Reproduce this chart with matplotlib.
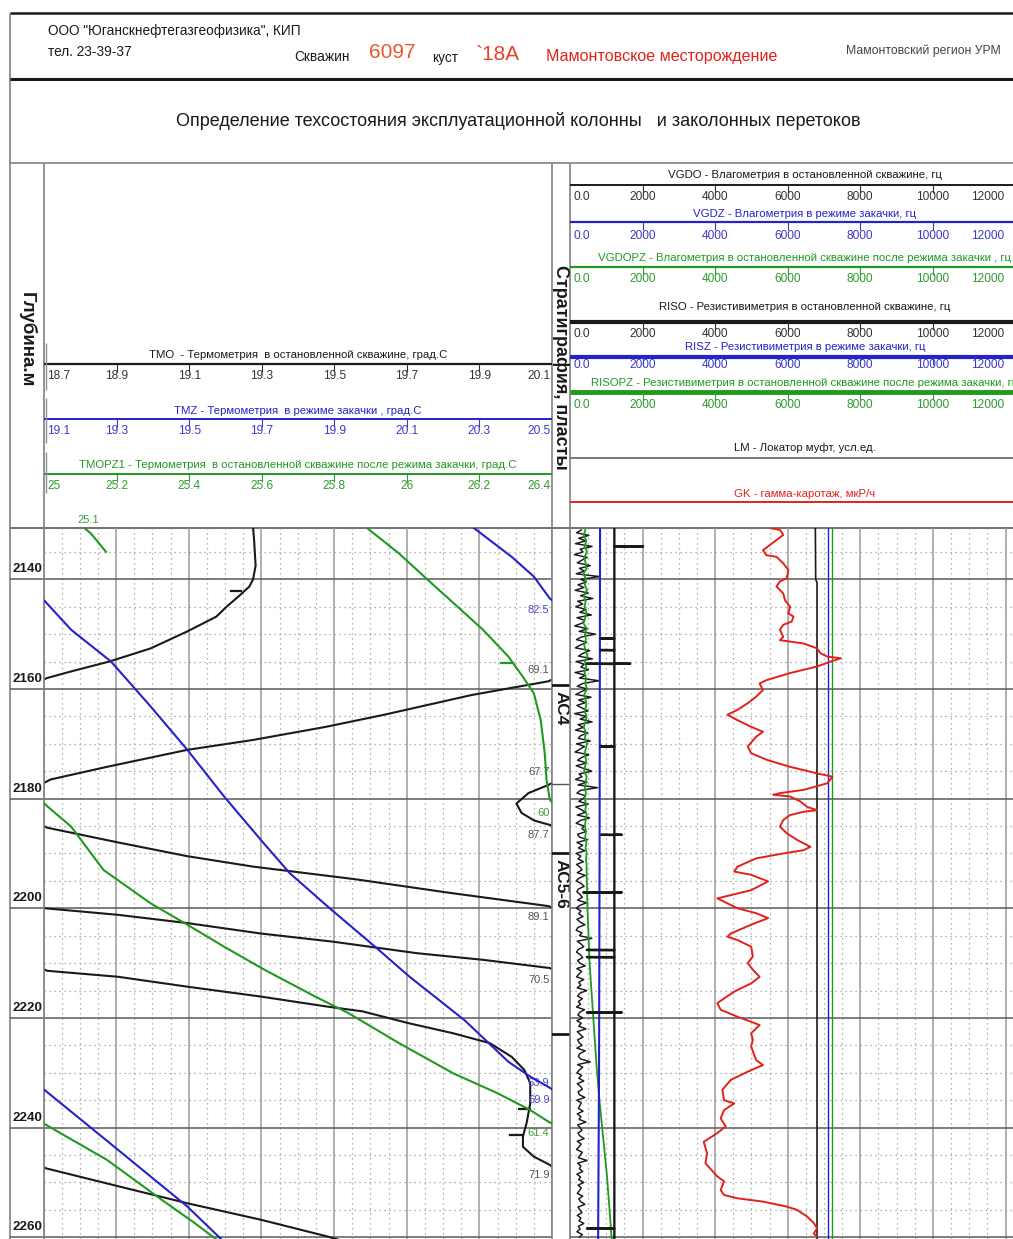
import numpy as np
import matplotlib
matplotlib.use("Agg")
import matplotlib.pyplot as plt

W, H = 1013, 1239
ARIAL = ['Liberation Sans', 'DejaVu Sans']
plt.rcParams['font.family'] = ARIAL

BLACK = '#1a1a1a'
BLUE = '#2323c8'
GREEN = '#1f9a1f'
RED = '#e3211c'

# ---------------- data ----------------
DEPTH_TOP, DEPTH_BOT = 2130.55, 2260.32
depth_major = [2140, 2160, 2180, 2200, 2220, 2240, 2260]

# temperature scales (window 1.4 C, curves wrap around)
TEMP_WINDOW = 1.4
tmo_scale = [18.7, 18.9, 19.1, 19.3, 19.5, 19.7, 19.9, 20.1]
tmz_scale = [19.1, 19.3, 19.5, 19.7, 19.9, 20.1, 20.3, 20.5]
tmopz1_scale = [25, 25.2, 25.4, 25.6, 25.8, 26, 26.2, 26.4]

tmo_depth = [2130.6, 2133.0, 2135.3, 2137.5, 2140.0, 2141.3, 2143.0, 2145.0, 2146.8, 2149.5,
             2152.6, 2155.0, 2156.8, 2158.0, 2158.6, 2161.1, 2164.7, 2166.9, 2169.3, 2171.1,
             2174.2, 2176.5, 2177.5, 2179.0, 2180.9, 2182.6, 2184.0, 2184.8, 2185.3, 2188.0,
             2190.5, 2192.4, 2194.7, 2197.2, 2199.6, 2200.0, 2201.2, 2202.7, 2204.6, 2206.1,
             2208.2, 2209.4, 2210.9, 2211.4, 2212.5, 2214.3, 2216.1, 2217.9, 2218.8, 2221.0,
             2222.8, 2224.6, 2227.1, 2229.5, 2231.9, 2235.6, 2239.2, 2241.6, 2243.5, 2245.3,
             2246.8, 2247.4, 2250.7, 2253.8, 2256.8, 2259.8, 2260.4]
tmo_temp = [69.677, 69.680, 69.682, 69.684, 69.677, 69.667, 69.639, 69.604, 69.576, 69.496,
            69.395, 69.281, 69.176, 69.110, 69.090, 68.879, 68.638, 68.478, 68.277, 68.096,
            67.875, 67.720, 67.690, 67.635, 67.602, 67.616, 67.651, 67.694, 67.710, 67.906,
            68.096, 68.277, 68.558, 68.820, 69.090, 69.105, 69.306, 69.496, 69.698, 69.898,
            70.129, 70.310, 70.494, 70.510, 70.706, 70.896, 71.098, 71.278, 71.378, 71.508,
            71.628, 71.729, 71.789, 71.824, 71.840, 71.840, 71.830, 71.820, 71.820, 71.850,
            71.894, 71.905, 72.106, 72.296, 72.498, 72.678, 72.710]

tmz_depth = [2130.6, 2135.9, 2139.5, 2143.5, 2144.0, 2149.2, 2155.0, 2163.2, 2171.1, 2179.6,
             2187.5, 2193.6, 2200.0, 2207.3, 2212.5, 2220.4, 2228.0, 2230.7, 2232.7, 2233.2,
             2244.1, 2254.4, 2260.4]
tmz_temp = [62.284, 62.389, 62.450, 62.494, 62.504, 62.576, 62.686, 62.795, 62.896, 62.997,
            63.098, 63.178, 63.288, 63.418, 63.508, 63.659, 63.780, 63.840, 63.893, 63.904,
            64.106, 64.296, 64.390]

tmopz1_depth = [2130.6, 2135.3, 2140.1, 2145.0, 2149.2, 2154.1, 2157.8, 2160.8, 2165.7, 2171.7,
                2176.6, 2180.2, 2181.2, 2185.1, 2193.0, 2199.1, 2203.0, 2207.0, 2211.2, 2216.1,
                2219.1, 2224.6, 2230.1, 2233.7, 2236.8, 2239.0, 2239.5, 2245.9, 2253.2, 2257.4,
                2260.4]
tmopz1_temp = [59.490, 59.579, 59.658, 59.740, 59.810, 59.880, 59.920, 59.950, 59.969, 59.980,
               59.985, 59.994, 60.007, 60.076, 60.165, 60.295, 60.396, 60.497, 60.608, 60.748,
               60.839, 60.979, 61.128, 61.249, 61.340, 61.392, 61.407, 61.575, 61.726, 61.816,
               61.876]
# first readings of TMOPZ1 before the probe settled
tmopz1_head_depth = [2130.8, 2131.6, 2133.2, 2135.0]
tmopz1_head_temp = [25.115, 25.130, 25.150, 25.172]

# wrap-point captions as printed on the log
wrap_labels = [('82.5', 2145.6, 'tmz'), ('69.1', 2156.5, 'tmo'), ('67.7', 2175.1, 'tmo'),
               ('60', 2182.6, 'tmopz1'), ('87.7', 2186.6, 'tmo'), ('89.1', 2201.6, 'tmo'),
               ('70.5', 2213.1, 'tmo'), ('63.9', 2231.9, 'tmz'), ('69.9', 2234.9, 'tmz'),
               ('61.4', 2241.0, 'tmopz1'), ('71.9', 2248.7, 'tmo')]
# small depth marks drawn on the curves: (depth, from, to)
tmo_marks = [(2142.2, 19.215, 19.245), (2236.7, 20.01, 20.04), (2241.4, 19.985, 20.02)]
tmopz1_marks = [(2155.2, 26.26, 26.29)]

# right track, frequency scale 0..12000 Hz
freq_scale = [0, 2000, 4000, 6000, 8000, 10000, 12000]
freq_labels = ['0.0', '2000', '4000', '6000', '8000', '10000', '12000']

vgdo = [310, 180, 520, 240, 430, 150, 610, 280, 360, 120, 470, 330, 200, 560, 260, 400, 170, 820, 300, 450,
        220, 380, 140, 500, 290, 630, 210, 350, 160, 440, 270, 590, 190, 410, 330, 130, 480, 250, 700, 320,
        180, 460, 280, 150, 540, 360, 230, 620, 170, 390, 300, 510, 140, 430, 260, 800, 350, 200, 470, 310,
        160, 580, 240, 420, 190, 340, 500, 130, 450, 280, 610, 220, 370, 150, 490, 300, 230, 560, 180, 400,
        270, 140, 520, 320, 210, 460, 170, 380, 600, 250, 330, 150, 470, 220, 760, 290, 190, 430, 360, 240,
        500, 160, 310, 420, 200, 540, 280, 170, 390, 330, 450, 210, 260, 480, 190, 350, 230, 410, 170, 300,
        220, 370, 180, 280, 330, 200, 420, 250, 170, 310, 390, 230, 190, 280, 340, 210, 450, 260, 180, 300,
        240, 360, 190, 280, 410, 220, 170, 330, 260, 600, 200, 300, 380, 230, 180, 290, 350, 210, 270, 420,
        190, 320, 250, 180, 380, 240, 300, 200, 460, 270, 210, 340, 230, 290, 180, 400, 260, 220, 350, 190,
        310, 240, 440, 200, 280, 360, 210, 250, 330, 190, 420, 270, 230, 300, 560, 210, 350, 260, 190, 320,
        240, 380, 200, 290, 340, 220, 260, 410, 190, 310, 270, 230, 360, 200, 300, 250, 440, 210, 280, 330,
        220, 270, 390, 200, 310, 250, 180, 340, 280, 230, 470, 210, 300, 260, 350, 190, 290, 240, 380, 220,
        310, 260, 200, 350, 240, 290, 410, 220, 270, 330, 200, 300, 250, 380, 230, 280, 190, 340, 260]
VGDO_START, VGDO_STEP = 2131.0, 0.5

vgdz_depth = [2130.6, 2190.0, 2230.0, 2260.4]
vgdz = [828, 815, 800, 775]

vgdopz_depth = list(range(2131, 2193)) + [2200, 2210, 2219.8, 2229.5, 2235.6, 2241.6, 2248.9, 2260.4]
vgdopz = [420, 380, 450, 400, 470, 390, 430, 460, 370, 440, 410, 470, 380, 430, 400, 450, 420, 370, 460, 410,
          440, 390, 430, 480, 410, 450, 400, 440, 420, 470, 390, 430, 450, 400, 460, 420, 380, 440, 410, 470,
          430, 400, 450, 420, 390, 460, 430, 410, 440, 400, 450, 420, 460, 430, 410, 440, 420, 450, 430, 460,
          440, 455, 480, 540, 640, 740, 820, 910, 1020, 1150]

riso_depth = [2130.6, 2140.0, 2140.6, 2260.4]
riso = [6760, 6770, 6806, 6806]
risz_depth = [2130.6, 2260.4]
risz = [7100, 7100]
risopz_depth = [2130.6, 2260.4]
risopz = [7220, 7220]

# LM: coupling collars (depth, pulse to the right, pulse to the left)
lm_collar = [2134.0, 2150.8, 2152.9, 2155.4, 2170.5, 2186.6, 2197.1, 2207.6, 2208.9, 2219.0, 2258.4]
lm_right = [0.65, 0.0, 0.0, 0.36, 0.0, 0.17, 0.17, 0.0, 0.0, 0.17, 0.0]
lm_left = [0.0, -0.32, -0.32, -0.62, -0.32, -0.30, -0.70, -0.62, -0.62, -0.62, -0.62]

gk_depth = [2130.7, 2131.0, 2131.9, 2134.7, 2135.6, 2135.9, 2137.1, 2138.3, 2139.8, 2140.4,
            2141.3, 2142.6, 2143.8, 2145.0, 2146.2, 2146.8, 2147.7, 2148.3, 2149.2, 2150.5,
            2151.1, 2151.7, 2152.6, 2153.5, 2154.1, 2154.4, 2155.0, 2155.9, 2157.1, 2158.4,
            2159.0, 2160.2, 2161.4, 2162.6, 2163.8, 2164.7, 2165.7, 2166.9, 2167.8, 2168.7,
            2170.5, 2171.7, 2172.9, 2174.2, 2175.4, 2176.0, 2177.2, 2178.4, 2179.0, 2179.3,
            2179.6, 2180.5, 2181.5, 2182.1, 2182.4, 2183.0, 2183.9, 2185.1, 2186.3, 2187.5,
            2188.8, 2189.4, 2190.0, 2190.9, 2192.4, 2193.3, 2193.9, 2195.1, 2196.7, 2198.2,
            2199.1, 2200.0, 2200.9, 2201.8, 2203.0, 2204.6, 2205.2, 2205.8, 2207.0, 2208.8,
            2210.0, 2211.2, 2212.5, 2213.7, 2215.2, 2217.3, 2218.5, 2219.8, 2220.7, 2221.3,
            2222.8, 2224.0, 2225.2, 2227.7, 2228.6, 2229.8, 2231.3, 2233.1, 2235.0, 2235.6,
            2236.8, 2238.3, 2239.8, 2241.0, 2242.6, 2244.7, 2246.5, 2248.9, 2249.8, 2251.4,
            2252.3, 2252.9, 2253.5, 2254.4, 2255.0, 2256.2, 2257.4, 2258.4, 2259.3, 2259.9]
gk = [11.9, 12.4, 12.6, 11.4, 11.6, 12.2, 12.6, 12.9, 12.8, 12.4,
      12.2, 12.6, 12.7, 13.0, 12.9, 13.2, 13.1, 12.6, 12.4, 12.6,
      12.4, 13.8, 14.6, 14.8, 15.2, 16.0, 15.4, 14.6, 13.0, 11.6,
      11.2, 11.4, 11.0, 10.5, 9.9, 9.3, 9.9, 10.7, 11.4, 11.0,
      10.5, 10.7, 11.6, 13.0, 14.6, 15.5, 15.2, 13.8, 12.4, 12.0,
      13.0, 13.6, 14.0, 14.6, 13.8, 13.0, 12.6, 12.4, 12.8, 13.4,
      14.2, 13.8, 12.6, 11.0, 9.9, 9.7, 10.7, 11.7, 10.7, 8.7,
      9.3, 9.9, 11.0, 11.7, 10.7, 9.5, 9.3, 9.9, 10.7, 10.8,
      10.5, 10.8, 11.2, 10.7, 9.7, 8.7, 8.9, 9.9, 10.7, 11.2,
      10.7, 10.8, 10.7, 11.0, 11.4, 10.5, 9.5, 9.0, 9.1, 9.7,
      9.1, 8.9, 9.2, 8.7, 7.9, 8.1, 8.0, 8.7, 9.1, 8.9,
      9.1, 9.9, 11.4, 12.8, 13.4, 14.0, 14.4, 14.6, 14.4, 14.6]
GK_LIM = (0, 26.2)
LM_LIM = (-1, 9)
FREQ_LIM = (0, 12220)

# stratigraphy
strat_bounds = [2159.3, 2177.3, 2190.0, 2223.0]
strat_thick = [True, False, True, True]
strat_names = [('АС4', 2159.3), ('АС5-6', 2190.0)]


# ---------------- helpers ----------------
def wrap_curve(depth, value, lo, width):
    xs, ys = [], []
    for i in range(len(value)):
        if i:
            k0 = int(np.floor((value[i - 1] - lo) / width))
            k1 = int(np.floor((value[i] - lo) / width))
            step = 1 if k1 > k0 else -1
            for k in range(k0, k1, step):
                edge = lo + (k + (1 if step > 0 else 0)) * width
                t = (edge - value[i - 1]) / (value[i] - value[i - 1])
                d = depth[i - 1] + t * (depth[i] - depth[i - 1])
                a, b = (lo + width, lo) if step > 0 else (lo, lo + width)
                xs += [a, np.nan, b]
                ys += [d, np.nan, d]
        xs.append(lo + (value[i] - lo) % width)
        ys.append(depth[i])
    return xs, ys


fig = plt.figure(figsize=(W / 100, H / 100), dpi=100)
bg = fig.add_axes([0, 0, 1, 1])
bg.set_xlim(0, W)
bg.set_ylim(H, 0)
bg.axis('off')


def px_axes(x0, y0, x1, y1):
    return fig.add_axes([x0 / W, 1 - y1 / H, (x1 - x0) / W, (y1 - y0) / H])


def hline(y, x0, x1, **kw):
    bg.plot([x0, x1], [y, y], solid_capstyle='butt', **kw)


def vline(x, y0, y1, **kw):
    bg.plot([x, x], [y0, y1], solid_capstyle='butt', **kw)


def style_track(ax, xlim, xmaj, xmin):
    ax.set_xlim(*xlim)
    ax.set_ylim(DEPTH_BOT, DEPTH_TOP)
    ax.set_xticks(xmaj)
    ax.set_xticks(xmin, minor=True)
    ax.set_yticks(depth_major)
    ax.set_yticks(np.arange(2135, 2260, 5), minor=True)
    ax.xaxis.grid(True, which='major', color='#9a9a9a', lw=1.1)
    ax.yaxis.grid(True, which='major', color='#5a5a5a', lw=1.1)
    ax.grid(True, which='minor', color='#9a9a9a', lw=0.9, linestyle=(0, (1, 3)))
    ax.set_axisbelow(True)
    ax.tick_params(which='both', length=0, labelbottom=False, labelleft=False)
    for s in ['top', 'bottom']:
        ax.spines[s].set_visible(False)
    for s in ['left', 'right']:
        ax.spines[s].set_color('#808080')
        ax.spines[s].set_linewidth(1.2)
    ax.patch.set_alpha(0)


def overlay(ax, xlim):
    o = ax.twiny()
    o.set_xlim(*xlim)
    o.set_ylim(DEPTH_BOT, DEPTH_TOP)
    o.axis('off')
    return o


# ---------------- header ----------------
hline(13, 10, W, color=BLACK, lw=1.8)
vline(10, 13, H, color='#808080', lw=1.2)
hline(79, 10, W, color=BLACK, lw=2.2)
hline(163, 10, W, color='#808080', lw=1.2)
hline(527.5, 10, W, color='#707070', lw=1.4)
for x in [43.5, 552, 570]:
    vline(x, 163, 527.5, color='#808080', lw=1.2)

bg.text(48, 31, 'ООО "Юганскнефтегазгеофизика", КИП', fontsize=9.8, va='center', color=BLACK)
bg.text(48, 52, 'тел. 23-39-37', fontsize=9.8, va='center', color=BLACK)
bg.text(294, 57, 'Скважин', fontsize=9.8, va='center', color=BLACK)
bg.text(369, 52, '6097', fontsize=15, va='center', color='#e8582e')
bg.text(432, 58, 'куст', fontsize=9.8, va='center', color=BLACK)
bg.text(476, 55, '`18А', fontsize=15, va='center', color='#e8412e')
bg.text(546, 56, 'Мамонтовское месторождение', fontsize=11.6, va='center', color='#e3211c')
bg.text(846, 51, 'Мамонтовский регион УРМ', fontsize=8.8, va='center', color='#444444')
bg.text(518, 121, 'Определение техсостояния эксплуатационной колонны   и заколонных перетоков',
        fontsize=13, ha='center', va='center', color=BLACK)

bg.text(27, 340, 'Глубина.м', rotation=270, fontsize=13.5, fontweight='bold', ha='center', va='center',
        color=BLACK)
bg.text(561, 367, 'Стратиграфия, пласты', rotation=270, fontsize=13, fontweight='bold', ha='center',
        va='center', color=BLACK)

HEAD_FS, TICK_FS = 8.2, 8.6


def scale_row(x0, x1, x_end, y_text, y_line, y_lab, title, values, labels, color, lw, lab_color):
    bg.text((x0 + x1) / 2 if x_end == x1 else 805, y_text, title, ha='center', va='center',
            fontsize=HEAD_FS, color=color)
    hline(y_line, x0, x_end, color=color, lw=lw)
    n = len(values)
    for i, (v, s) in enumerate(zip(values, labels)):
        x = x0 + (v - values[0]) / (values[-1] - values[0]) * (x1 - x0)
        if i == 0:
            bg.text(x + 3, y_lab, s, ha='left', va='center', fontsize=TICK_FS, color=lab_color)
        elif i == n - 1:
            bg.text(x - 1, y_lab, s, ha='right', va='center', fontsize=TICK_FS, color=lab_color)
        else:
            bg.text(x, y_lab, s, ha='center', va='center', fontsize=TICK_FS, color=lab_color)
            vline(x, y_line, y_line + 8, color=lab_color, lw=0.8)


LAB_K, LAB_B, LAB_G = '#333333', '#3a3ac8', '#2f9a2f'
fmt = lambda vals: ['%g' % v for v in vals]
scale_row(44, 552, 552, 355, 363.5, 376, 'TMO  - Термометрия  в остановленной скважине, град.С',
          tmo_scale, fmt(tmo_scale), BLACK, 1.6, LAB_K)
scale_row(44, 552, 552, 411, 419, 431, 'TMZ - Термометрия  в режиме закачки , град.С',
          tmz_scale, fmt(tmz_scale), BLUE, 1.4, LAB_B)
scale_row(44, 552, 552, 465, 474, 486,
          'TMOPZ1 - Термометрия  в остановленной скважине после режима закачки, град.С',
          tmopz1_scale, fmt(tmopz1_scale), GREEN, 1.4, LAB_G)
for y0, y1 in [(343, 390), (398, 443), (452, 493)]:
    vline(45.5, y0, y1, color='#909090', lw=1.0)

scale_row(570, 1005, W, 175, 185, 197, 'VGDO - Влагометрия в остановленной скважине, гц',
          freq_scale, freq_labels, BLACK, 1.4, LAB_K)
scale_row(570, 1005, W, 214, 222, 236, 'VGDZ - Влагометрия в режиме закачки, гц',
          freq_scale, freq_labels, BLUE, 1.6, LAB_B)
scale_row(570, 1005, W, 258, 267, 279,
          'VGDOPZ - Влагометрия в остановленной скважине после режима закачки , гц',
          freq_scale, freq_labels, GREEN, 1.6, LAB_G)
scale_row(570, 1005, W, 307, 322, 334, 'RISO - Резистивиметрия в остановленной скважине, гц',
          freq_scale, freq_labels, BLACK, 3.0, LAB_K)
scale_row(570, 1005, W, 347, 357, 365, 'RISZ - Резистивиметрия в режиме закачки, гц',
          freq_scale, freq_labels, BLUE, 3.0, LAB_B)
scale_row(570, 1005, W, 383, 392, 405,
          'RISOPZ - Резистивиметрия в остановленной скважине после режима закачки, гц',
          freq_scale, freq_labels, GREEN, 3.5, LAB_G)
bg.text(805, 448, 'LM - Локатор муфт, усл.ед.', ha='center', va='center', fontsize=HEAD_FS, color=BLACK)
hline(458, 570, W, color='#7a7a7a', lw=1.4)
bg.text(805, 494, 'GK - гамма-каротаж, мкР/ч', ha='center', va='center', fontsize=HEAD_FS, color=RED)
hline(502, 570, W, color=RED, lw=1.4)

# ---------------- depth column ----------------
axD = px_axes(10, 527.5, 43.5, H)
axD.set_xlim(0, 1)
axD.set_ylim(DEPTH_BOT, DEPTH_TOP)
axD.set_yticks(depth_major)
axD.yaxis.grid(True, color='#5a5a5a', lw=1.1)
axD.tick_params(which='both', length=0, labelbottom=False, labelleft=False)
for s in axD.spines.values():
    s.set_visible(False)
axD.patch.set_alpha(0)
for d in depth_major:
    axD.text(0.96, d - 0.7, str(d), transform=axD.get_yaxis_transform(), ha='right', va='bottom',
             fontsize=9.6, fontweight='bold', color=BLACK)

# ---------------- left track: thermometry ----------------
axL = px_axes(43.5, 527.5, 552, H)
style_track(axL, (tmo_scale[0], tmo_scale[-1]), tmo_scale, np.arange(18.7, 20.1, 0.05))
axZ = overlay(axL, (tmz_scale[0], tmz_scale[-1]))
axP = overlay(axL, (tmopz1_scale[0], tmopz1_scale[-1]))

x, y = wrap_curve(tmo_depth, tmo_temp, tmo_scale[0], TEMP_WINDOW)
axL.plot(x, y, color=BLACK, lw=1.5)
x, y = wrap_curve(tmz_depth, tmz_temp, tmz_scale[0], TEMP_WINDOW)
axZ.plot(x, y, color=BLUE, lw=1.5)
x, y = wrap_curve(tmopz1_depth, tmopz1_temp, tmopz1_scale[0], TEMP_WINDOW)
axP.plot(x, y, color=GREEN, lw=1.5)
axP.plot(tmopz1_head_temp, tmopz1_head_depth, color=GREEN, lw=1.5)
for d, a, b in tmo_marks:
    axL.plot([a, b], [d, d], color=BLACK, lw=1.6)
for d, a, b in tmopz1_marks:
    axP.plot([a, b], [d, d], color=GREEN, lw=1.6)

lab_colors = {'tmo': '#555555', 'tmz': '#4a4ad0', 'tmopz1': '#3a9f3a'}
for s, d, c in wrap_labels:
    axL.text(0.995, d, s, transform=axL.get_yaxis_transform(), ha='right', va='center',
             fontsize=8, color=lab_colors[c])
bg.text(88, 520, '%.1f' % tmopz1_head_temp[0], ha='center', va='center', fontsize=8, color='#3a9f3a')

# ---------------- stratigraphy column ----------------
axS = px_axes(552, 527.5, 570, H)
axS.set_xlim(0, 1)
axS.set_ylim(DEPTH_BOT, DEPTH_TOP)
axS.axis('off')
for d, thick in zip(strat_bounds, strat_thick):
    axS.axhline(d, color=BLACK if thick else '#555555', lw=2.0 if thick else 1.0)
for name, top in strat_names:
    axS.text(0.5, top + 1.0, name, rotation=270, ha='center', va='top', fontsize=12.5,
             fontweight='bold', color=BLACK)

# ---------------- right track ----------------
axR = px_axes(570, 527.5, W + 0.5, H)
style_track(axR, FREQ_LIM, freq_scale, np.arange(0, 12001, 500))
axR.spines['right'].set_visible(False)
axG = overlay(axR, GK_LIM)
axM = overlay(axR, LM_LIM)

vgdo_depth = VGDO_START + VGDO_STEP * np.arange(len(vgdo))
axR.plot(vgdo, vgdo_depth, color=BLACK, lw=1.05)
axR.plot(vgdopz, vgdopz_depth, color=GREEN, lw=1.3)
axR.plot(vgdz, vgdz_depth, color=BLUE, lw=1.5)
axR.plot(riso, riso_depth, color=BLACK, lw=1.2)
axR.plot(risz, risz_depth, color=BLUE, lw=1.0)
axR.plot(risopz, risopz_depth, color=GREEN, lw=1.0)

lm_d, lm_v = [DEPTH_TOP], [0.0]
for d, r, l in zip(lm_collar, lm_right, lm_left):
    lm_d += [d - 0.05, d, d, d + 0.05]
    lm_v += [0.0, r, l, 0.0]
lm_d.append(DEPTH_BOT)
lm_v.append(0.0)
axM.plot(lm_v, lm_d, color=BLACK, lw=1.7)

axG.plot(gk, gk_depth, color=RED, lw=1.4)

fig.savefig('out.png', dpi=100)
